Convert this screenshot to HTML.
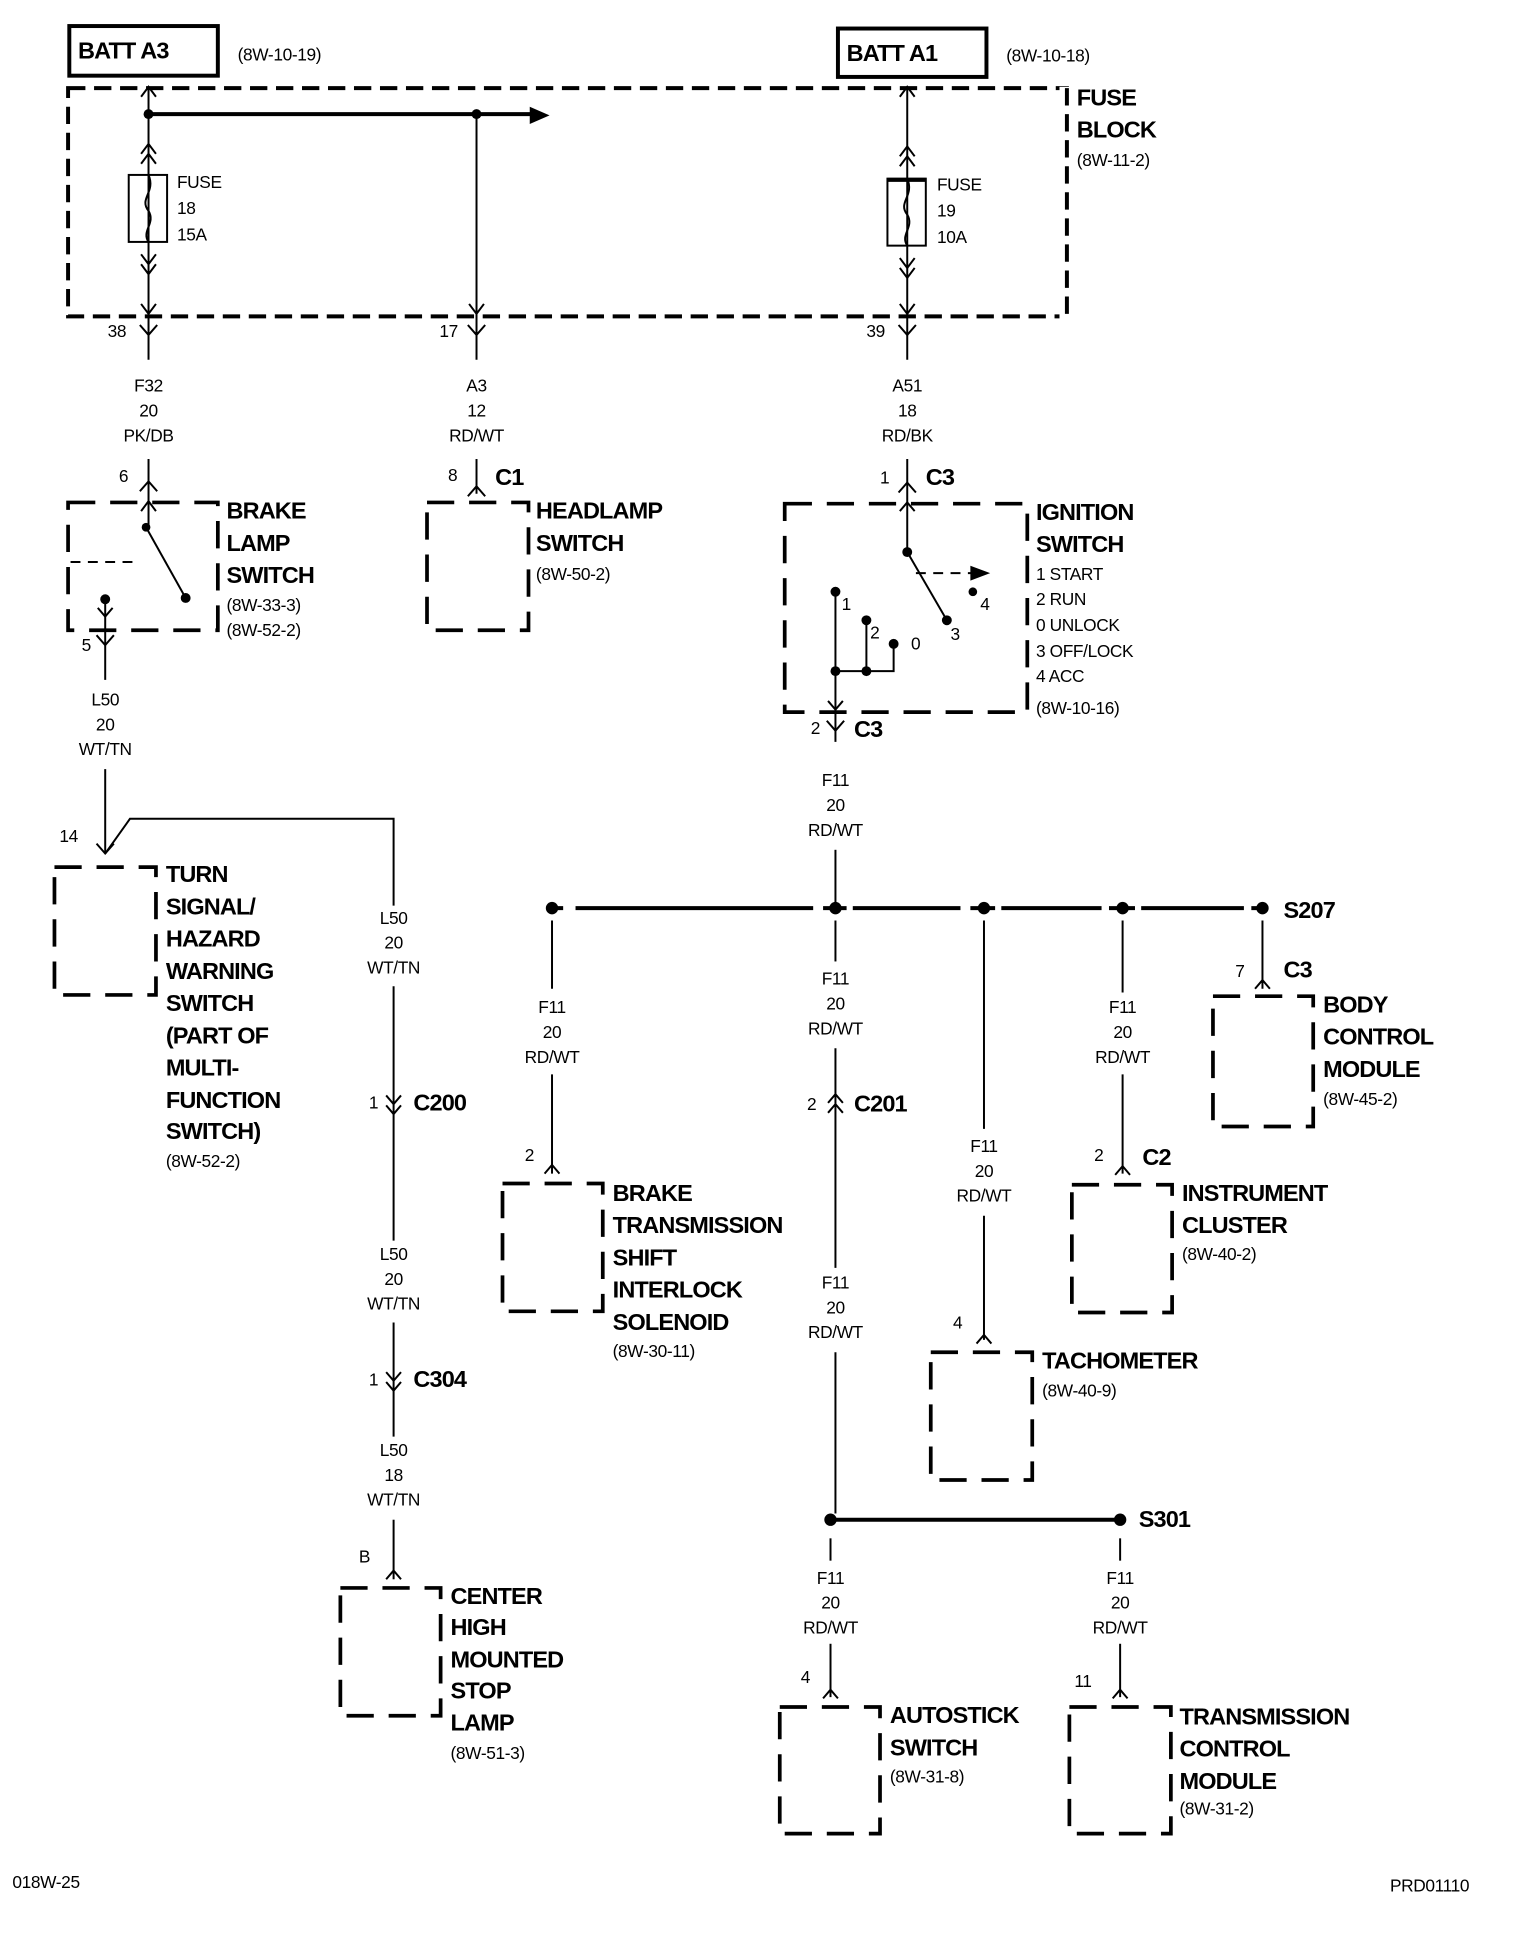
<!DOCTYPE html>
<html><head><meta charset="utf-8"><style>
html,body{margin:0;padding:0;background:#fff}
svg{display:block}
text{font-family:"Liberation Sans Narrow","Liberation Sans",sans-serif;fill:#000;dominant-baseline:middle}
.b{font-weight:bold;font-size:19px;letter-spacing:-0.7px}
.s{font-size:14px;letter-spacing:-0.3px}
.m{text-anchor:middle}
.w{stroke:#000;stroke-width:1.6;fill:none}
.t{stroke:#000;stroke-width:3.2;fill:none}
.d{stroke:#000;stroke-width:3.2;fill:none;stroke-dasharray:14 7}
.bx{stroke:#000;stroke-width:3;fill:none;stroke-dasharray:22 12}
</style></head><body>
<svg width="1536" height="1944" viewBox="0 0 1241 1567" preserveAspectRatio="none" xmlns="http://www.w3.org/2000/svg">
<rect x="56" y="21" width="120" height="40" class="t"/>
<text x="63" y="42" class="b">BATT A3</text>
<text x="192" y="45" class="s">(8W-10-19)</text>
<rect x="677" y="23" width="120" height="39" class="t"/>
<text x="684" y="44" class="b">BATT A1</text>
<text x="813" y="46" class="s">(8W-10-18)</text>
<rect x="55" y="71" width="807" height="184" class="d"/>
<rect x="856" y="70" width="14" height="190" fill="#fff"/>
<line x1="862" y1="71" x2="862" y2="255" class="d"/>
<text x="870" y="80" class="b">FUSE</text>
<text x="870" y="106" class="b">BLOCK</text>
<text x="870" y="130" class="s">(8W-11-2)</text>
<line x1="120" y1="70" x2="120" y2="290" class="w"/>
<polyline points="114,78 120,70 126,78" class="w"/>
<line x1="120" y1="92" x2="432" y2="92" class="t"/>
<polygon points="428,86 444,93 428,100"/>
<circle cx="120" cy="92" r="4"/><circle cx="385" cy="92" r="4"/>
<polyline points="114,124 120,116 126,124" class="w"/><polyline points="114,132 120,124 126,132" class="w"/>
<rect x="104" y="141" width="31" height="54" class="w" fill="#fff"/>
<path d="M120,141 C126,155 112,160 120,170 C126,180 114,186 120,195" class="w"/>
<polyline points="114,205 120,213 126,205" class="w"/><polyline points="114,213 120,221 126,213" class="w"/>
<polyline points="114,245 120,253 126,245" class="w"/>
<text x="143" y="148" class="s">FUSE</text><text x="143" y="169" class="s">18</text><text x="143" y="190" class="s">15A</text>
<line x1="385" y1="92" x2="385" y2="290" class="w"/>
<polyline points="379,245 385,253 391,245" class="w"/>
<line x1="733" y1="70" x2="733" y2="290" class="w"/>
<polyline points="727,78 733,70 739,78" class="w"/>
<polyline points="727,126 733,118 739,126" class="w"/><polyline points="727,134 733,126 739,134" class="w"/>
<rect x="717" y="144" width="31" height="54" class="w" fill="#fff"/>
<line x1="717" y1="145" x2="748" y2="145" class="t"/>
<path d="M733,144 C739,158 725,163 733,173 C739,183 727,189 733,198" class="w"/>
<polyline points="727,208 733,216 739,208" class="w"/><polyline points="727,216 733,224 739,216" class="w"/>
<polyline points="727,245 733,253 739,245" class="w"/>
<text x="757" y="150" class="s">FUSE</text><text x="757" y="171" class="s">19</text><text x="757" y="192" class="s">10A</text>
<polyline points="113,262 120,270 127,262" class="w"/><text x="87" y="268" class="s">38</text>
<polyline points="378,262 385,270 392,262" class="w"/><text x="355" y="268" class="s">17</text>
<polyline points="726,262 733,270 740,262" class="w"/><text x="700" y="268" class="s">39</text>
<text x="120" y="312" class="s m">F32</text><text x="120" y="332" class="s m">20</text><text x="120" y="352" class="s m">PK/DB</text>
<text x="385" y="312" class="s m">A3</text><text x="385" y="332" class="s m">12</text><text x="385" y="352" class="s m">RD/WT</text>
<text x="733" y="312" class="s m">A51</text><text x="733" y="332" class="s m">18</text><text x="733" y="352" class="s m">RD/BK</text>
<line x1="120" y1="370" x2="120" y2="425" class="w"/>
<polyline points="113,396 120,388 127,396" class="w"/><text x="96" y="385" class="s">6</text>
<polyline points="114,412 120,404 126,412" class="w"/>
<rect x="55" y="405" width="121" height="103" class="bx"/>
<line x1="57" y1="453" x2="112" y2="453" class="w" stroke-dasharray="8 6"/>
<circle cx="118" cy="425" r="3.5"/><line x1="118" y1="425" x2="150" y2="482" class="w"/><circle cx="150" cy="482" r="4"/>
<circle cx="85" cy="483" r="4"/><line x1="85" y1="483" x2="85" y2="548" class="w"/>
<polyline points="79,490 85,497 91,490" class="w"/>
<polyline points="78,512 85,520 92,512" class="w"/><text x="66" y="521" class="s">5</text>
<text x="183" y="413" class="b">BRAKE</text><text x="183" y="439" class="b">LAMP</text><text x="183" y="465" class="b">SWITCH</text>
<text x="183" y="489" class="s">(8W-33-3)</text><text x="183" y="509" class="s">(8W-52-2)</text>
<text x="85" y="565" class="s m">L50</text><text x="85" y="585" class="s m">20</text><text x="85" y="605" class="s m">WT/TN</text>
<line x1="385" y1="370" x2="385" y2="398" class="w"/>
<polyline points="378,400 385,392 392,400" class="w"/>
<text x="362" y="384" class="s">8</text><text x="400" y="386" class="b">C1</text>
<rect x="345" y="405" width="82" height="103" class="bx"/>
<text x="433" y="413" class="b">HEADLAMP</text><text x="433" y="439" class="b">SWITCH</text><text x="433" y="464" class="s">(8W-50-2)</text>
<line x1="733" y1="370" x2="733" y2="445" class="w"/>
<polyline points="726,397 733,389 740,397" class="w"/><polyline points="727,412 733,405 739,412" class="w"/>
<text x="711" y="386" class="s">1</text><text x="748" y="386" class="b">C3</text>
<rect x="634" y="406" width="196" height="168" class="bx"/>
<circle cx="733" cy="445" r="4"/><line x1="733" y1="445" x2="765" y2="500" class="w"/><circle cx="765" cy="500" r="4"/>
<line x1="740" y1="462" x2="786" y2="462" class="w" stroke-dasharray="8 6"/><polygon points="784,456 800,462 784,468"/>
<circle cx="786" cy="477" r="3.5"/><text x="792" y="488" class="s">4</text><text x="768" y="512" class="s">3</text>
<circle cx="675" cy="477" r="4"/><text x="680" y="488" class="s">1</text>
<circle cx="700" cy="500" r="4"/><text x="703" y="511" class="s">2</text>
<circle cx="722" cy="519" r="4"/><text x="736" y="520" class="s">0</text>
<polyline points="675,477 675,598" class="w"/><line x1="700" y1="500" x2="700" y2="541" class="w"/>
<polyline points="722,519 722,541 675,541" class="w"/>
<circle cx="675" cy="541" r="4"/><circle cx="700" cy="541" r="4"/>
<polyline points="669,565 675,572 681,565" class="w"/>
<polyline points="668,581 675,589 682,581" class="w"/>
<text x="655" y="588" class="s">2</text><text x="690" y="589" class="b">C3</text>
<text x="837" y="414" class="b">IGNITION</text><text x="837" y="440" class="b">SWITCH</text>
<text x="837" y="464" class="s">1 START</text><text x="837" y="484" class="s">2 RUN</text><text x="837" y="505" class="s">0 UNLOCK</text>
<text x="837" y="526" class="s">3 OFF/LOCK</text><text x="837" y="546" class="s">4 ACC</text><text x="837" y="572" class="s">(8W-10-16)</text>
<text x="675" y="630" class="s m">F11</text><text x="675" y="650" class="s m">20</text><text x="675" y="670" class="s m">RD/WT</text>
<line x1="675" y1="685" x2="675" y2="732" class="w"/>
<line x1="446" y1="732" x2="1020" y2="732" class="t"/>
<circle cx="446" cy="732" r="5"/><circle cx="675" cy="732" r="5"/><circle cx="795" cy="732" r="5"/><circle cx="907" cy="732" r="5"/><circle cx="1020" cy="732" r="5"/>
<rect x="455" y="729" width="10" height="6" fill="#fff"/><rect x="657" y="729" width="8" height="6" fill="#fff"/><rect x="684" y="729" width="5" height="6" fill="#fff"/>
<rect x="776" y="729" width="8" height="6" fill="#fff"/><rect x="804" y="729" width="5" height="6" fill="#fff"/><rect x="890" y="729" width="6" height="6" fill="#fff"/><rect x="917" y="729" width="5" height="6" fill="#fff"/><rect x="1005" y="729" width="6" height="6" fill="#fff"/>
<text x="1037" y="735" class="b">S207</text>
<line x1="446" y1="742" x2="446" y2="797" class="w"/><line x1="446" y1="866" x2="446" y2="946" class="w"/>
<text x="446" y="813" class="s m">F11</text><text x="446" y="833" class="s m">20</text><text x="446" y="853" class="s m">RD/WT</text>
<polyline points="440,946 446,939 452,946" class="w"/><text x="424" y="932" class="s">2</text>
<rect x="406" y="954" width="81" height="103" class="bx"/>
<text x="495" y="963" class="b">BRAKE</text><text x="495" y="989" class="b">TRANSMISSION</text><text x="495" y="1015" class="b">SHIFT</text><text x="495" y="1041" class="b">INTERLOCK</text><text x="495" y="1067" class="b">SOLENOID</text><text x="495" y="1090" class="s">(8W-30-11)</text>
<line x1="675" y1="742" x2="675" y2="775" class="w"/><line x1="675" y1="845" x2="675" y2="1022" class="w"/><line x1="675" y1="1090" x2="675" y2="1220" class="w"/>
<text x="675" y="790" class="s m">F11</text><text x="675" y="810" class="s m">20</text><text x="675" y="830" class="s m">RD/WT</text>
<polyline points="669,889 675,882 681,889" class="w"/><polyline points="669,897 675,890 681,897" class="w"/>
<text x="652" y="891" class="s">2</text><text x="690" y="891" class="b">C201</text>
<text x="675" y="1035" class="s m">F11</text><text x="675" y="1055" class="s m">20</text><text x="675" y="1075" class="s m">RD/WT</text>
<line x1="795" y1="742" x2="795" y2="910" class="w"/><line x1="795" y1="980" x2="795" y2="1080" class="w"/>
<text x="795" y="925" class="s m">F11</text><text x="795" y="945" class="s m">20</text><text x="795" y="965" class="s m">RD/WT</text>
<polyline points="789,1083 795,1076 801,1083" class="w"/><text x="770" y="1067" class="s">4</text>
<rect x="752" y="1090" width="82" height="103" class="bx"/>
<text x="842" y="1098" class="b">TACHOMETER</text><text x="842" y="1122" class="s">(8W-40-9)</text>
<line x1="907" y1="742" x2="907" y2="800" class="w"/><line x1="907" y1="866" x2="907" y2="946" class="w"/>
<text x="907" y="813" class="s m">F11</text><text x="907" y="833" class="s m">20</text><text x="907" y="853" class="s m">RD/WT</text>
<polyline points="901,947 907,940 913,947" class="w"/><text x="884" y="932" class="s">2</text><text x="923" y="934" class="b">C2</text>
<rect x="866" y="955" width="81" height="103" class="bx"/>
<text x="955" y="963" class="b">INSTRUMENT</text><text x="955" y="989" class="b">CLUSTER</text><text x="955" y="1012" class="s">(8W-40-2)</text>
<line x1="1020" y1="742" x2="1020" y2="797" class="w"/>
<polyline points="1014,797 1020,790 1026,797" class="w"/><text x="998" y="784" class="s">7</text><text x="1037" y="783" class="b">C3</text>
<rect x="980" y="803" width="81" height="105" class="bx"/>
<text x="1069" y="811" class="b">BODY</text><text x="1069" y="837" class="b">CONTROL</text><text x="1069" y="863" class="b">MODULE</text><text x="1069" y="887" class="s">(8W-45-2)</text>
<line x1="671" y1="1225" x2="905" y2="1225" class="t"/>
<circle cx="671" cy="1225" r="5"/><circle cx="905" cy="1225" r="5"/>
<text x="920" y="1226" class="b">S301</text>
<line x1="671" y1="1240" x2="671" y2="1258" class="w"/><line x1="671" y1="1325" x2="671" y2="1368" class="w"/>
<text x="671" y="1273" class="s m">F11</text><text x="671" y="1293" class="s m">20</text><text x="671" y="1313" class="s m">RD/WT</text>
<polyline points="665,1369 671,1362 677,1369" class="w"/><text x="647" y="1353" class="s">4</text>
<rect x="630" y="1376" width="81" height="102" class="bx"/>
<text x="719" y="1384" class="b">AUTOSTICK</text><text x="719" y="1410" class="b">SWITCH</text><text x="719" y="1433" class="s">(8W-31-8)</text>
<line x1="905" y1="1240" x2="905" y2="1258" class="w"/><line x1="905" y1="1325" x2="905" y2="1368" class="w"/>
<text x="905" y="1273" class="s m">F11</text><text x="905" y="1293" class="s m">20</text><text x="905" y="1313" class="s m">RD/WT</text>
<polyline points="899,1369 905,1362 911,1369" class="w"/><text x="868" y="1356" class="s">11</text>
<rect x="864" y="1376" width="82" height="102" class="bx"/>
<text x="953" y="1385" class="b">TRANSMISSION</text><text x="953" y="1411" class="b">CONTROL</text><text x="953" y="1437" class="b">MODULE</text><text x="953" y="1459" class="s">(8W-31-2)</text>
<line x1="85" y1="620" x2="85" y2="688" class="w"/>
<polyline points="78,680 85,688 92,680" class="w"/>
<polyline points="85,688 105,660 318,660 318,730" class="w"/>
<text x="48" y="675" class="s">14</text>
<rect x="44" y="699" width="82" height="103" class="bx"/>
<text x="134" y="706" class="b">TURN</text><text x="134" y="732" class="b">SIGNAL/</text><text x="134" y="758" class="b">HAZARD</text><text x="134" y="784" class="b">WARNING</text><text x="134" y="810" class="b">SWITCH</text><text x="134" y="836" class="b">(PART OF</text><text x="134" y="862" class="b">MULTI-</text><text x="134" y="888" class="b">FUNCTION</text><text x="134" y="913" class="b">SWITCH)</text><text x="134" y="937" class="s">(8W-52-2)</text>
<text x="318" y="741" class="s m">L50</text><text x="318" y="761" class="s m">20</text><text x="318" y="781" class="s m">WT/TN</text>
<line x1="318" y1="795" x2="318" y2="1000" class="w"/>
<polyline points="312,883 318,890 324,883" class="w"/><polyline points="312,891 318,898 324,891" class="w"/>
<text x="298" y="890" class="s">1</text><text x="334" y="890" class="b">C200</text>
<text x="318" y="1012" class="s m">L50</text><text x="318" y="1032" class="s m">20</text><text x="318" y="1052" class="s m">WT/TN</text>
<line x1="318" y1="1066" x2="318" y2="1158" class="w"/>
<polyline points="312,1106 318,1113 324,1106" class="w"/><polyline points="312,1114 318,1121 324,1114" class="w"/>
<text x="298" y="1113" class="s">1</text><text x="334" y="1113" class="b">C304</text>
<text x="318" y="1170" class="s m">L50</text><text x="318" y="1190" class="s m">18</text><text x="318" y="1210" class="s m">WT/TN</text>
<line x1="318" y1="1225" x2="318" y2="1273" class="w"/>
<polyline points="312,1273 318,1266 324,1273" class="w"/><text x="290" y="1256" class="s">B</text>
<rect x="275" y="1280" width="81" height="103" class="bx"/>
<text x="364" y="1288" class="b">CENTER</text><text x="364" y="1313" class="b">HIGH</text><text x="364" y="1339" class="b">MOUNTED</text><text x="364" y="1364" class="b">STOP</text><text x="364" y="1390" class="b">LAMP</text><text x="364" y="1414" class="s">(8W-51-3)</text>
<text x="10" y="1518" class="s">018W-25</text>
<text x="1123" y="1521" class="s">PRD01110</text>
</svg>
</body></html>
